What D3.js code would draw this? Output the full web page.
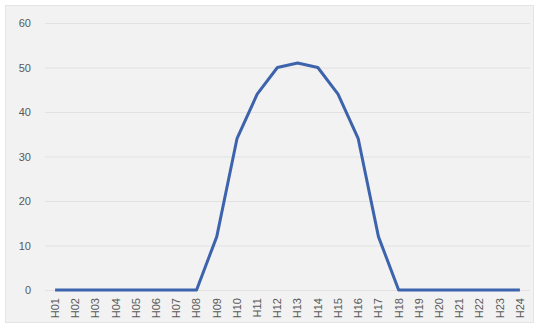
<!DOCTYPE html>
<html>
<head>
<meta charset="utf-8">
<script src="https://cdn.jsdelivr.net/npm/d3@7"></script>
<style>
  body { margin: 0; background: #fff; }
  svg { display: block; font-family: "Liberation Sans", "Noto Sans", sans-serif; }
</style>
</head>
<body>
<div id="chart"></div>
<script>
// Hourly values H01..H24
const hours = ['H01','H02','H03','H04','H05','H06','H07','H08','H09','H10','H11','H12',
               'H13','H14','H15','H16','H17','H18','H19','H20','H21','H22','H23','H24'];
const values = [0, 0, 0, 0, 0, 0, 0, 0, 12, 34, 44, 50, 51, 50, 44, 34, 12, 0, 0, 0, 0, 0, 0, 0];
const yTicks = [0, 10, 20, 30, 40, 50, 60];

const width = 540, height = 329;
const plot = { left: 45, right: 530, top: 23, bottom: 290 };

const svg = d3.select('#chart').append('svg')
  .attr('width', width)
  .attr('height', height);

// Chart frame
svg.append('rect')
  .attr('x', 5.5).attr('y', 5.5)
  .attr('width', 528).attr('height', 317)
  .attr('fill', '#f2f2f2')
  .attr('stroke', '#e4e4e4');

const x = d3.scaleBand()
  .domain(hours)
  .range([plot.left, plot.right])
  .padding(0);

const y = d3.scaleLinear()
  .domain([0, 60])
  .range([plot.bottom, plot.top]);

// Gridlines + y labels
const yAxis = d3.axisLeft(y)
  .tickValues(yTicks)
  .tickSize(-(plot.right - plot.left))
  .tickPadding(14);

svg.append('g')
  .attr('transform', `translate(${plot.left},0)`)
  .call(yAxis)
  .call(g => g.select('.domain').remove())
  .call(g => g.selectAll('.tick line').attr('stroke', '#e2e2e2'))
  .call(g => g.selectAll('.tick text')
    .attr('fill', '#595959')
    .attr('font-size', 11));

// X axis labels, rotated
const xAxis = d3.axisBottom(x).tickSize(0).tickPadding(6);

svg.append('g')
  .attr('transform', `translate(0,${plot.bottom})`)
  .call(xAxis)
  .call(g => g.select('.domain').remove())
  .call(g => g.selectAll('.tick text')
    .attr('fill', '#595959')
    .attr('font-size', 11)
    .attr('text-anchor', 'end')
    .attr('dy', '0.35em')
    .attr('transform', 'translate(0,4) rotate(-90)')
    .attr('x', -4)
    .attr('y', 0));

// The line
const line = d3.line()
  .x((d, i) => x(hours[i]) + x.bandwidth() / 2)
  .y(d => y(d));

svg.append('path')
  .datum(values)
  .attr('fill', 'none')
  .attr('stroke', '#3c63ac')
  .attr('stroke-width', 3)
  .attr('stroke-linejoin', 'round')
  .attr('d', line);
</script>
</body>
</html>
